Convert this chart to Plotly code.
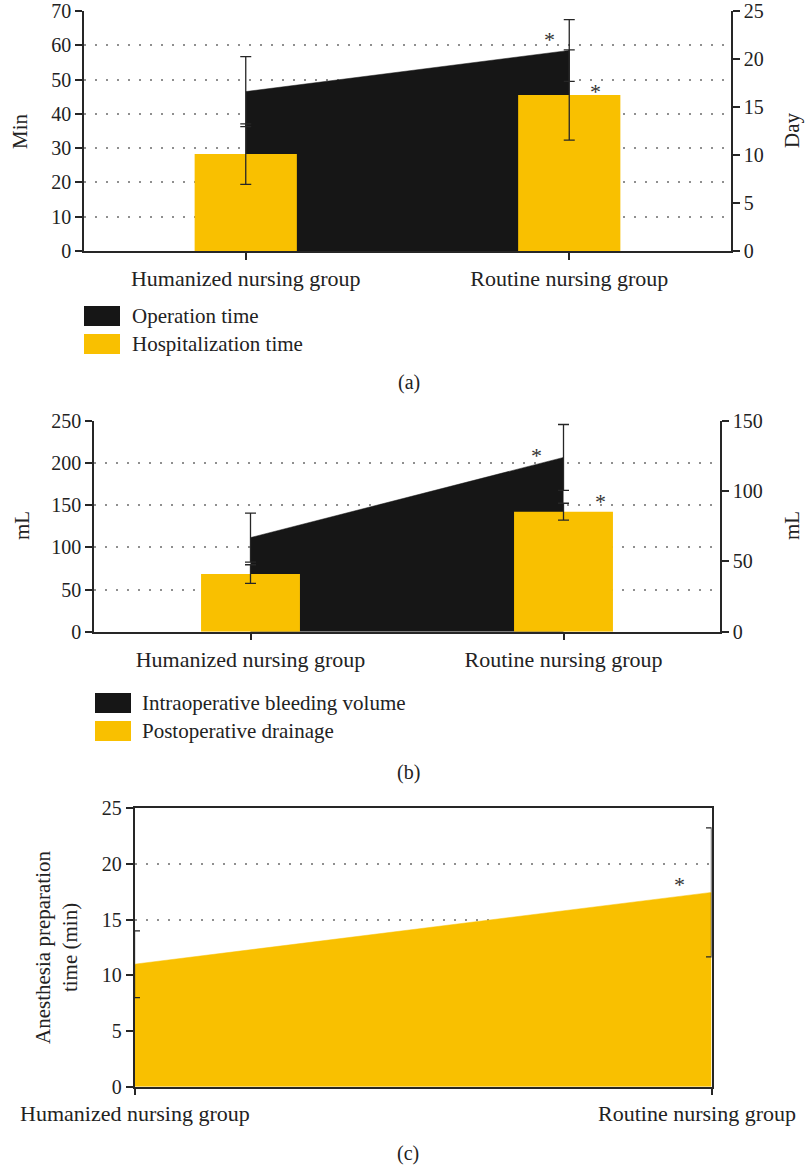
import plotly.graph_objects as go

W, H = 805, 1166
FONT = "Liberation Serif"
BLACK = "#161616"
YELLOW = "#F9C000"
INK = "#262626"

# ---- data ----
groups = ["Humanized nursing group", "Routine nursing group"]

# (a) operation time (min, left axis) and hospitalization time (days, right axis)
operation_time = [46.5, 58.5]
operation_sd = [10.2, 9.0]
hospital_days = [10.1, 16.25]
hospital_sd = [3.15, 4.7]

# (b) intraoperative bleeding (mL, left axis) and postoperative drainage (mL, right axis)
bleeding_ml = [111.5, 206.5]
bleeding_sd = [29.0, 39.0]
drainage_ml = [41.0, 85.3]
drainage_sd = [6.6, 6.0]

# (c) anesthesia preparation time (min)
anesthesia_min = [11.0, 17.45]
anesthesia_sd = [3.0, 5.8]

# axis ticks
ticks_a_left = [0, 10, 20, 30, 40, 50, 60, 70]
ticks_a_right = [0, 5, 10, 15, 20, 25]
ticks_b_left = [0, 50, 100, 150, 200, 250]
ticks_b_right = [0, 50, 100, 150]
ticks_c = [0, 5, 10, 15, 20, 25]

BAR_W = 0.316
idx = list(range(len(groups)))


def px_x(p):
    return p / W


def px_y(p):
    return 1 - p / H


def err(vals, color=INK, width=5.5):
    return dict(type="data", array=vals, visible=True, color=color,
                thickness=1.3, width=width)


axis_base = dict(
    showline=True, linecolor=INK, linewidth=1.5,
    ticks="outside", ticklen=7, tickwidth=1.5, tickcolor=INK,
    tickfont=dict(family=FONT, size=20, color="#222"),
    zeroline=False, fixedrange=True, showgrid=False,
    automargin=False, ticklabeloverflow="allow",
)
grid = dict(showgrid=True, gridcolor="#8f8f8f", gridwidth=1.5, griddash="2px,9px")

fig = go.Figure()

# ---------- panel (a) ----------
fig.add_trace(go.Scatter(
    x=idx, y=operation_time, mode="lines", fill="tozeroy",
    fillcolor=BLACK, line=dict(color=BLACK, width=0.5),
    error_y=err(operation_sd), xaxis="x", yaxis="y", name="Operation time",
))
fig.add_trace(go.Bar(
    x=idx, y=hospital_days, width=BAR_W, marker=dict(color=YELLOW, line=dict(width=0)),
    error_y=err(hospital_sd), xaxis="x", yaxis="y2", name="Hospitalization time",
))

# ---------- panel (b) ----------
fig.add_trace(go.Scatter(
    x=idx, y=bleeding_ml, mode="lines", fill="tozeroy",
    fillcolor=BLACK, line=dict(color=BLACK, width=0.5),
    error_y=err(bleeding_sd), xaxis="x2", yaxis="y3", name="Intraoperative bleeding volume",
))
fig.add_trace(go.Bar(
    x=idx, y=drainage_ml, width=BAR_W, marker=dict(color=YELLOW, line=dict(width=0)),
    error_y=err(drainage_sd), xaxis="x2", yaxis="y4", name="Postoperative drainage",
))

# ---------- panel (c) ----------
fig.add_trace(go.Scatter(
    x=idx, y=anesthesia_min, mode="lines", fill="tozeroy",
    fillcolor=YELLOW, line=dict(color=YELLOW, width=0.5),
    error_y=err(anesthesia_sd), cliponaxis=False,
    xaxis="x3", yaxis="y5", name="Anesthesia preparation time",
))

cat_font = dict(family=FONT, size=22, color="#222")

fig.update_layout(
    width=W, height=H,
    margin=dict(l=0, r=0, t=0, b=0, autoexpand=False),
    paper_bgcolor="white", plot_bgcolor="white",
    showlegend=False, barmode="overlay",
    font=dict(family=FONT, color="#222"),
    # (a)
    xaxis=dict(axis_base, domain=[px_x(84), px_x(731)], range=[-0.5, 1.5],
               tickvals=idx, ticktext=groups, tickfont=cat_font, anchor="y"),
    yaxis=dict(axis_base, **grid, domain=[px_y(251), px_y(11)], range=[0, 70],
               tickvals=ticks_a_left, anchor="x"),
    yaxis2=dict(axis_base, domain=[px_y(251), px_y(11)], range=[0, 25],
                tickvals=ticks_a_right, overlaying="y", side="right", anchor="x"),
    # (b)
    xaxis2=dict(axis_base, domain=[px_x(94), px_x(720)], range=[-0.5, 1.5],
                tickvals=idx, ticktext=groups, tickfont=cat_font, anchor="y3"),
    yaxis3=dict(axis_base, **grid, domain=[px_y(631.7), px_y(420.7)], range=[0, 250],
                tickvals=ticks_b_left, anchor="x2"),
    yaxis4=dict(axis_base, domain=[px_y(631.7), px_y(420.7)], range=[0, 150],
                tickvals=ticks_b_right, overlaying="y3", side="right", anchor="x2"),
    # (c) — category names are placed as annotations so the right one stays inside the page
    xaxis3=dict(axis_base, domain=[px_x(134.5), px_x(711.5)], range=[0, 1],
                tickvals=idx, showticklabels=False, anchor="y5", mirror=True),
    yaxis5=dict(axis_base, **grid, domain=[px_y(1086.7), px_y(808.3)], range=[0, 25],
                tickvals=ticks_c, anchor="x3", mirror=True),
)

ann = []


def paper_text(text, x, y, angle=0, xanchor="center", size=21):
    ann.append(dict(text=text, x=px_x(x), y=px_y(y), xref="paper", yref="paper",
                    showarrow=False, textangle=angle, xanchor=xanchor, yanchor="middle",
                    font=dict(family=FONT, size=size, color="#222")))


# axis titles
paper_text("Min", 20, 131, angle=-90)
paper_text("Day", 792, 131, angle=-90)
paper_text("mL", 22, 526, angle=-90)
paper_text("mL", 792, 526, angle=-90)
paper_text("Anesthesia preparation<br>time (min)", 56, 947, angle=-90)

# panel labels
paper_text("(a)", 409, 382, size=20)
paper_text("(b)", 408, 772, size=20)
paper_text("(c)", 408, 1153, size=20)

# category names for panel (c)
for i, name in enumerate(groups):
    last = i == len(groups) - 1
    ann.append(dict(text=name, x=idx[i], y=px_y(1113), xref="x3", yref="paper",
                    showarrow=False, xanchor="right" if last else "center",
                    xshift=86 if last else 0, yanchor="middle", font=cat_font))


# significance marks, offset from the routine-group values
def star(xref, yref, x, y, dx, dy):
    ann.append(dict(text="*", x=x, y=y, xref=xref, yref=yref, showarrow=False,
                    xshift=dx, yshift=dy, xanchor="center", yanchor="middle",
                    font=dict(family=FONT, size=22, color="#333")))


star("x", "y", 1, operation_time[1], -20, 11)
star("x", "y2", 1, hospital_days[1], 26, 4)
star("x2", "y3", 1, bleeding_ml[1], -27, 2)
star("x2", "y4", 1, drainage_ml[1], 37, 10)
star("x3", "y5", 1, anesthesia_min[1], -32, 8)

# legends
shapes = []


def legend(items, x0, y0, step, text_x):
    for i, (label, color) in enumerate(items):
        top = y0 + i * step
        shapes.append(dict(type="rect", xref="paper", yref="paper",
                           x0=px_x(x0), x1=px_x(x0 + 36), y0=px_y(top + 20), y1=px_y(top),
                           fillcolor=color, line=dict(width=0)))
        paper_text(label, text_x, top + 10, xanchor="left")


legend([("Operation time", BLACK), ("Hospitalization time", YELLOW)], 84, 306, 28, 130)
legend([("Intraoperative bleeding volume", BLACK), ("Postoperative drainage", YELLOW)],
       95, 693, 28, 140)

fig.update_layout(annotations=ann, shapes=shapes)

fig.write_html("out.html")
